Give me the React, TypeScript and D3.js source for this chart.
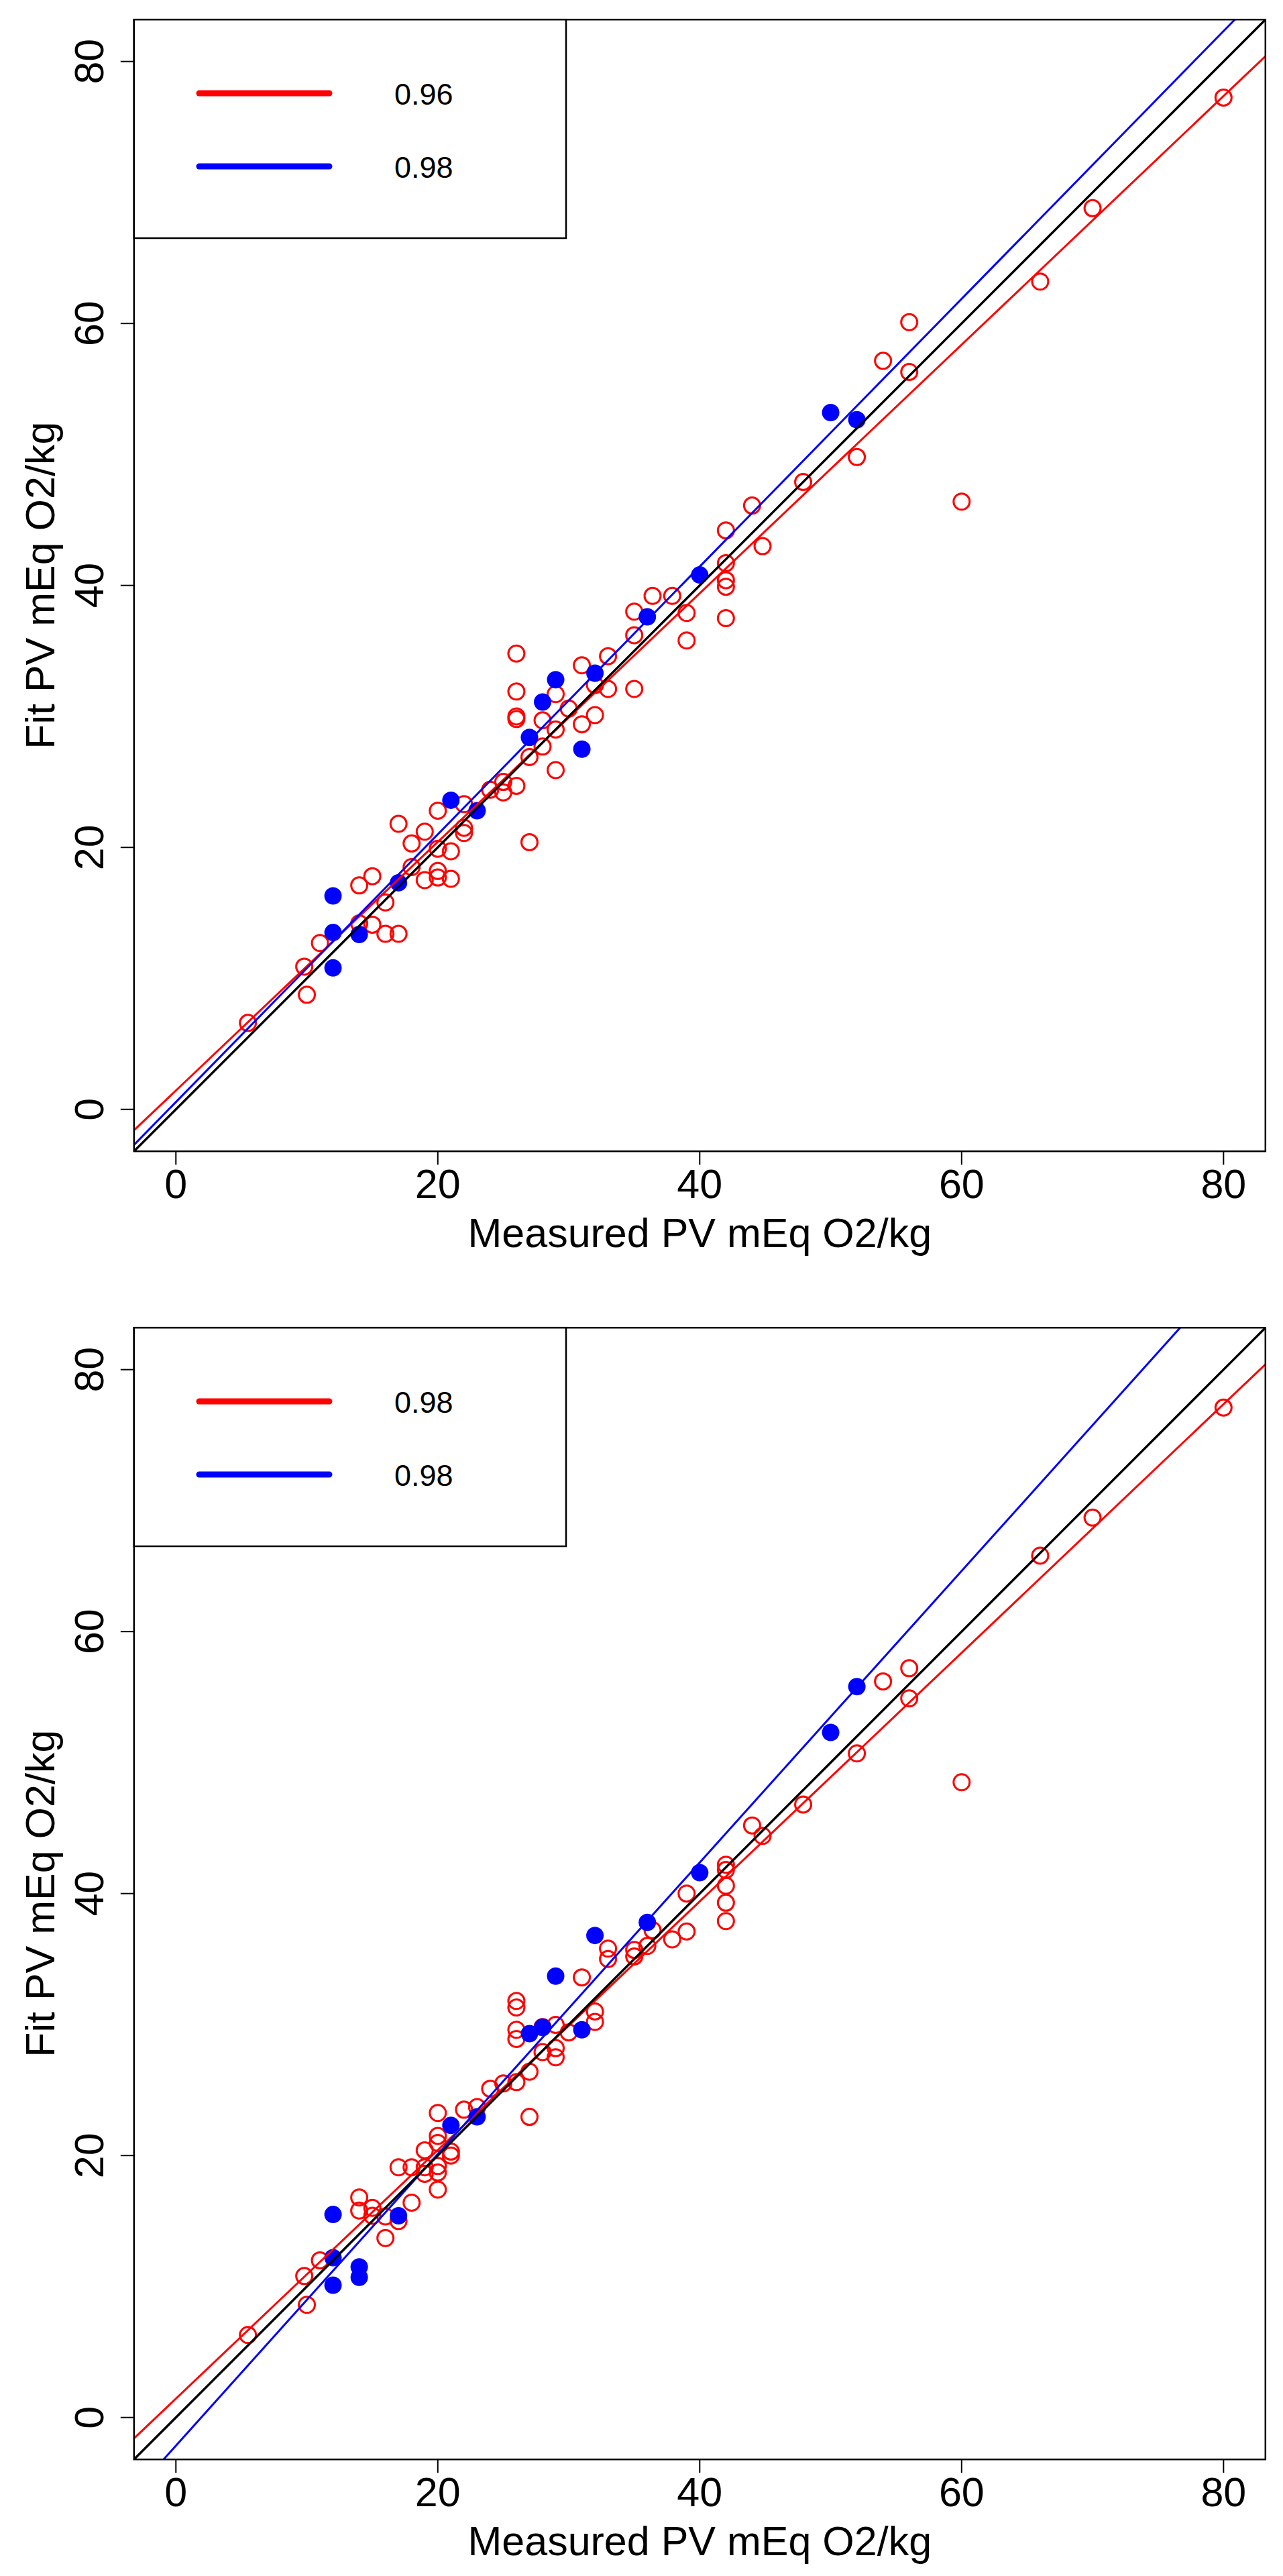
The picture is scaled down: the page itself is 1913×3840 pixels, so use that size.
import * as d3 from "d3";

// measured vs fitted PV, two model runs (top / bottom panel)
const axisTicks = [0, 20, 40, 60, 80];
const axisDomain: [number, number] = [-3.2, 83.2];

const topRedX = [5.5, 9.8, 10, 11, 14, 14, 15, 15, 16, 16, 17, 17, 18, 19, 20, 20, 21, 18, 19, 20, 20, 21, 22, 22, 22, 24, 25, 25, 26, 27, 26, 26, 26, 26, 27, 28, 28, 29, 29, 29, 30, 31, 32, 32, 33, 33, 31, 35, 35, 35, 36.4, 37.9, 39, 39, 42, 42, 42, 42, 42, 44, 44.8, 47.9, 52, 54, 56, 56, 60, 66, 70, 80];
const topRedY = [6.6, 10.9, 8.75, 12.7, 17.1, 14.2, 17.8, 14.1, 15.8, 13.4, 13.4, 21.8, 20.3, 21.2, 22.8, 19.9, 19.7, 18.5, 17.5, 18.2, 17.7, 17.6, 21.5, 21.1, 23.3, 24.4, 25.0, 24.2, 24.7, 20.4, 34.8, 31.9, 30.0, 29.8, 26.9, 27.7, 29.7, 31.7, 29.0, 25.9, 30.6, 29.4, 30.1, 32.4, 32.1, 34.6, 33.9, 32.1, 38.0, 36.2, 39.2, 39.2, 37.9, 35.8, 44.2, 41.7, 40.4, 39.9, 37.5, 46.1, 43.0, 47.9, 49.8, 57.15, 60.1, 56.3, 46.4, 63.2, 68.8, 77.25];

const topBlueX = [12, 12, 12, 14, 17, 21, 23, 27, 28, 29, 31, 32, 36, 40, 50, 52];
const topBlueY = [16.3, 13.5, 10.8, 13.35, 17.3, 23.6, 22.8, 28.4, 31.1, 32.8, 27.5, 33.3, 37.6, 40.8, 53.2, 52.65];

const bottomRedX = [5.5, 9.8, 10, 11, 14, 14, 15, 15, 16, 16, 17, 18, 17, 18, 19, 19, 19, 20, 20, 20, 20, 20, 20, 21, 21, 22, 23, 24, 25, 26, 27, 26, 26, 26, 26, 27, 28, 28, 29, 29, 29, 30, 31, 32, 32, 33, 33, 35, 35, 36, 36.4, 37.9, 39, 39, 42, 42, 42, 42, 42, 44, 44.8, 47.9, 52, 54, 56, 56, 60, 66, 70, 80];
const bottomRedY = [6.3, 10.8, 8.6, 12.0, 16.8, 15.8, 16.0, 15.4, 15.35, 13.7, 15.0, 16.4, 19.1, 19.1, 20.4, 19.1, 18.6, 23.25, 21.5, 20.96, 19.2, 18.7, 17.4, 20.3, 20.0, 23.5, 23.7, 25.1, 25.5, 25.6, 22.95, 31.8, 31.3, 29.6, 28.9, 26.4, 27.9, 29.8, 29.97, 28.2, 27.5, 29.4, 33.6, 31.0, 30.2, 35.8, 35.0, 35.7, 35.2, 36.0, 37.2, 36.5, 37.1, 40.0, 42.2, 41.8, 40.6, 39.3, 37.9, 45.2, 44.4, 46.8, 50.7, 56.2, 57.2, 54.9, 48.5, 65.8, 68.7, 77.1];

const bottomBlueX = [12, 12, 12, 14, 14, 17, 21, 23, 27, 28, 29, 31, 32, 36, 40, 50, 52];
const bottomBlueY = [15.5, 12.2, 10.1, 11.5, 10.7, 15.4, 22.3, 22.95, 29.3, 29.8, 33.7, 29.6, 36.8, 37.8, 41.6, 52.3, 55.8];

// fitted lines: [intercept, slope]
const topRedFit = [1.44, 0.949];
const topBlueFit = [0.56, 1.022];
const bottomRedFit = [1.44, 0.949];
const bottomBlueFit = [-2.15, 1.113];

const topLegend = ["0.96", "0.98"];
const bottomLegend = ["0.98", "0.98"];

const FONT = "'Liberation Sans', Arial, sans-serif";

interface PanelProps {
  id: string;
  offsetY: number;
  redX: number[];
  redY: number[];
  blueX: number[];
  blueY: number[];
  redFit: number[];
  blueFit: number[];
  legend: string[];
}

function Panel({ id, offsetY, redX, redY, blueX, blueY, redFit, blueFit, legend }: PanelProps) {
  const left = 199.8;
  const right = 1886.8;
  const top = 29.2;
  const bottom = 1716.2;

  const x = d3.scaleLinear().domain(axisDomain).range([left, right]);
  const y = d3.scaleLinear().domain(axisDomain).range([bottom, top]);

  // abline-style: straight line across the whole plotting region
  const fitPath = (fit: number[]) => {
    const [a, b] = fit;
    const gen = d3
      .line<number>()
      .x((d) => x(d))
      .y((d) => y(a + b * d));
    return gen(axisDomain) ?? "";
  };

  const legendColors = ["#ff0000", "#0000ff"];
  const midY = (top + bottom) / 2;
  const midX = (left + right) / 2;

  return (
    <g transform={`translate(0,${offsetY})`}>
      <defs>
        <clipPath id={`clip-${id}`}>
          <rect x={left} y={top} width={right - left} height={bottom - top} />
        </clipPath>
      </defs>

      <g clipPath={`url(#clip-${id})`}>
        {redX.map((d, i) => (
          <circle key={`r${i}`} cx={x(d)} cy={y(redY[i])} r={12} fill="none" stroke="#ff0000" strokeWidth={3} />
        ))}
        {blueX.map((d, i) => (
          <circle key={`b${i}`} cx={x(d)} cy={y(blueY[i])} r={13} fill="#0000ff" />
        ))}
        <path d={fitPath(redFit)} stroke="#ff0000" strokeWidth={3} fill="none" />
        <path d={fitPath(blueFit)} stroke="#0000ff" strokeWidth={3} fill="none" />
        <path d={fitPath([0, 1])} stroke="#000" strokeWidth={3.4} fill="none" />
      </g>

      <rect x={left} y={top} width={right - left} height={bottom - top} fill="none" stroke="#000" strokeWidth={2.5} />

      {/* x axis */}
      {axisTicks.map((t) => (
        <g key={`xt${t}`}>
          <line x1={x(t)} x2={x(t)} y1={bottom} y2={bottom + 20} stroke="#000" strokeWidth={2} />
          <text x={x(t)} y={1786} textAnchor="middle" fontSize={61} fontFamily={FONT}>
            {t}
          </text>
        </g>
      ))}
      <text x={midX} y={1859} textAnchor="middle" fontSize={61} fontFamily={FONT}>
        Measured PV mEq O2/kg
      </text>

      {/* y axis */}
      {axisTicks.map((t) => (
        <g key={`yt${t}`}>
          <line x1={left} x2={left - 20} y1={y(t)} y2={y(t)} stroke="#000" strokeWidth={2} />
          <text
            transform={`translate(154,${y(t)}) rotate(-90)`}
            textAnchor="middle"
            fontSize={61}
            fontFamily={FONT}
          >
            {t}
          </text>
        </g>
      ))}
      <text
        transform={`translate(81,${midY}) rotate(-90)`}
        textAnchor="middle"
        fontSize={61}
        fontFamily={FONT}
      >
        Fit PV mEq O2/kg
      </text>

      {/* legend */}
      <rect x={left} y={top} width={844 - left} height={355 - top} fill="#fff" stroke="#000" strokeWidth={2.5} />
      {legend.map((label, i) => {
        const ly = 139 + i * 109;
        return (
          <g key={`lg${i}`}>
            <line x1={297} x2={491} y1={ly} y2={ly} stroke={legendColors[i]} strokeWidth={9} strokeLinecap="round" />
            <text x={588} y={ly + 17} fontSize={45} fontFamily={FONT}>
              {label}
            </text>
          </g>
        );
      })}
    </g>
  );
}

export default function App() {
  return (
    <div style={{ position: "absolute", left: 0, top: 0 }}>
      <svg width={1913} height={3840} style={{ display: "block", background: "#fff" }}>
        <Panel
          id="top"
          offsetY={0}
          redX={topRedX}
          redY={topRedY}
          blueX={topBlueX}
          blueY={topBlueY}
          redFit={topRedFit}
          blueFit={topBlueFit}
          legend={topLegend}
        />
        <Panel
          id="bottom"
          offsetY={1950}
          redX={bottomRedX}
          redY={bottomRedY}
          blueX={bottomBlueX}
          blueY={bottomBlueY}
          redFit={bottomRedFit}
          blueFit={bottomBlueFit}
          legend={bottomLegend}
        />
      </svg>
    </div>
  );
}
